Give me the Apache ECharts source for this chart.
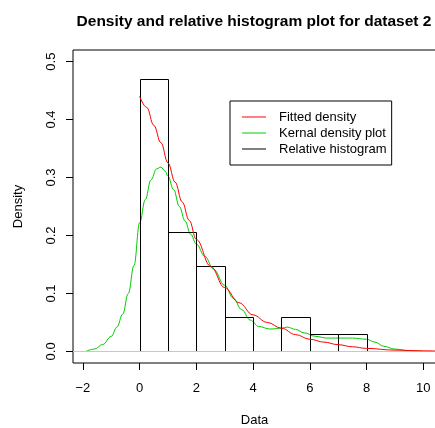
<!DOCTYPE html>
<html>
<head>
<meta charset="utf-8">
<script src="https://cdn.jsdelivr.net/npm/echarts@6/dist/echarts.min.js"></script>
<style>
  html, body { margin: 0; padding: 0; background: #fff; }
  #chart { width: 435px; height: 428px; }
</style>
</head>
<body>
<div id="chart"></div>
<script>
// histogram: bin edges and relative (density) heights
const histBreaks = [0, 1, 2, 3, 4, 5, 6, 7, 8];
const histDensity = [0.4706, 0.2059, 0.1471, 0.0588, 0, 0.0588, 0.0294, 0.0294];

// fitted density curve
const fitX = [0, 0.25, 0.5, 0.75, 1, 1.25, 1.5, 1.75, 2, 2.5, 3, 3.5, 4, 4.5, 5, 5.5, 6, 6.5, 7, 7.5, 8, 9, 10, 10.5];
const fitY = [0.440, 0.421, 0.390, 0.360, 0.325, 0.292, 0.258, 0.226, 0.193, 0.147, 0.110, 0.084, 0.063, 0.050, 0.040, 0.029, 0.021, 0.016, 0.0116, 0.008, 0.0052, 0.0022, 0.001, 0.0007];

// kernel density curve
const kdeX = [-1.9, -1.6, -1.3, -1.0, -0.8, -0.6, -0.4, -0.2, 0, 0.2, 0.4, 0.6, 0.75, 0.9, 1.0, 1.2, 1.4, 1.6, 1.8, 2.0, 2.3, 2.6, 3.0, 3.3, 3.6, 3.9, 4.2, 4.6, 5.0, 5.2, 5.5, 5.8, 6.2, 6.6, 7.0, 7.5, 8.0, 8.3, 8.6, 9.0, 9.5, 10.0];
const kdeY = [0.000, 0.004, 0.012, 0.026, 0.042, 0.064, 0.100, 0.148, 0.222, 0.262, 0.296, 0.315, 0.318, 0.311, 0.302, 0.279, 0.250, 0.225, 0.202, 0.185, 0.164, 0.142, 0.114, 0.092, 0.072, 0.054, 0.043, 0.0386, 0.040, 0.042, 0.038, 0.032, 0.026, 0.023, 0.023, 0.023, 0.021, 0.016, 0.009, 0.004, 0.0012, 0.0];

const xTicks = [-2, 0, 2, 4, 6, 8, 10];
const yTicks = [0, 0.1, 0.2, 0.3, 0.4, 0.5];

const FONT = 'Liberation Sans, Arial, Helvetica, sans-serif';

let histData = [];
for (let i = 0; i < histDensity.length; i++) {
  histData.push([histBreaks[i], histBreaks[i + 1], histDensity[i]]);
}
let fitData = fitX.map((x, i) => [x, fitY[i]]);
let kdeData = kdeX.map((x, i) => [x, kdeY[i]]);

let chart = echarts.init(document.getElementById('chart'), null, {renderer: 'canvas'});
chart.setOption({
  animation: false,
  backgroundColor: '#fff',
  textStyle: {fontFamily: FONT},
  title: {
    text: 'Density and relative histogram plot for dataset 2',
    left: 249,
    textAlign: 'center',
    top: 9,
    textStyle: {fontFamily: FONT, fontSize: 15.5, fontWeight: 'bold', color: '#000'}
  },
  grid: {
    left: 73, right: -1, top: 50, bottom: 65,
    outerBoundsMode: 'none',
    show: true, borderColor: '#000', borderWidth: 1, backgroundColor: 'transparent'
  },
  legend: {
    orient: 'vertical',
    left: 230, top: 101,
    itemGap: 0, itemWidth: 24, itemHeight: 1,
    padding: [8, 5, 8, 12],
    borderColor: '#000', borderWidth: 1,
    backgroundColor: '#fff',
    selectedMode: false,
    textStyle: {fontFamily: FONT, fontSize: 13, color: '#000', lineHeight: 16, padding: [0, 0, 0, 8]},
    data: [
      {name: 'Fitted density', icon: 'rect', itemStyle: {color: '#ff0000'}},
      {name: 'Kernal density plot', icon: 'rect', itemStyle: {color: '#00cd00'}},
      {name: 'Relative histogram', icon: 'rect', itemStyle: {color: '#000'}}
    ]
  },
  xAxis: {
    type: 'value',
    min: -2.35, max: 10.45,
    name: 'Data',
    nameLocation: 'middle',
    nameGap: 51,
    nameTextStyle: {fontFamily: FONT, fontSize: 13, color: '#000'},
    axisLine: {show: false, onZero: false},
    splitLine: {show: false},
    axisTick: {show: true, length: 7, customValues: xTicks, lineStyle: {color: '#000'}},
    axisLabel: {
      customValues: xTicks, margin: 19, fontSize: 13, color: '#000', fontFamily: FONT,
      formatter: v => (v < 0 ? '\u2212' + Math.abs(v) : String(v))
    }
  },
  yAxis: {
    type: 'value',
    min: -0.02, max: 0.52,
    name: 'Density',
    nameLocation: 'middle',
    nameGap: 48,
    nameTextStyle: {fontFamily: FONT, fontSize: 13, color: '#000'},
    axisLine: {show: false, onZero: false},
    splitLine: {show: false},
    axisTick: {show: true, length: 7, customValues: yTicks, lineStyle: {color: '#000'}},
    axisLabel: {
      customValues: yTicks, rotate: 90, margin: 15, fontSize: 13, color: '#000', fontFamily: FONT,
      formatter: v => v.toFixed(1)
    }
  },
  series: [
    {
      name: 'Kernal density plot',
      type: 'line',
      data: kdeData,
      showSymbol: false,
      smooth: 0.4,
      smoothMonotone: 'x',
      lineStyle: {color: '#00cd00', width: 1},
      itemStyle: {color: '#00cd00'},
      z: 3,
      markLine: {
        silent: true,
        symbol: 'none',
        label: {show: false},
        lineStyle: {color: '#c8c8c8', width: 1, type: 'solid'},
        data: [{yAxis: 0}]
      }
    },
    {
      name: 'Relative histogram',
      type: 'custom',
      data: histData,
      clip: true,
      z: 4,
      itemStyle: {color: '#000'},
      renderItem: function (params, api) {
        let p0 = api.coord([api.value(0), 0]);
        let p1 = api.coord([api.value(1), api.value(2)]);
        let x0 = Math.round(p0[0]) + 0.5, x1 = Math.round(p1[0]) + 0.5;
        let y0 = Math.round(p0[1]) + 0.5, y1 = Math.round(p1[1]) + 0.5;
        return {
          type: 'rect',
          shape: {x: x0, y: y1, width: x1 - x0, height: y0 - y1},
          style: {fill: 'none', stroke: '#000', lineWidth: 1}
        };
      }
    },
    {
      name: 'Fitted density',
      type: 'line',
      data: fitData,
      showSymbol: false,
      smooth: 0.4,
      smoothMonotone: 'x',
      lineStyle: {color: '#ff0000', width: 1},
      itemStyle: {color: '#ff0000'},
      z: 5
    }
  ]
});
</script>
</body>
</html>
